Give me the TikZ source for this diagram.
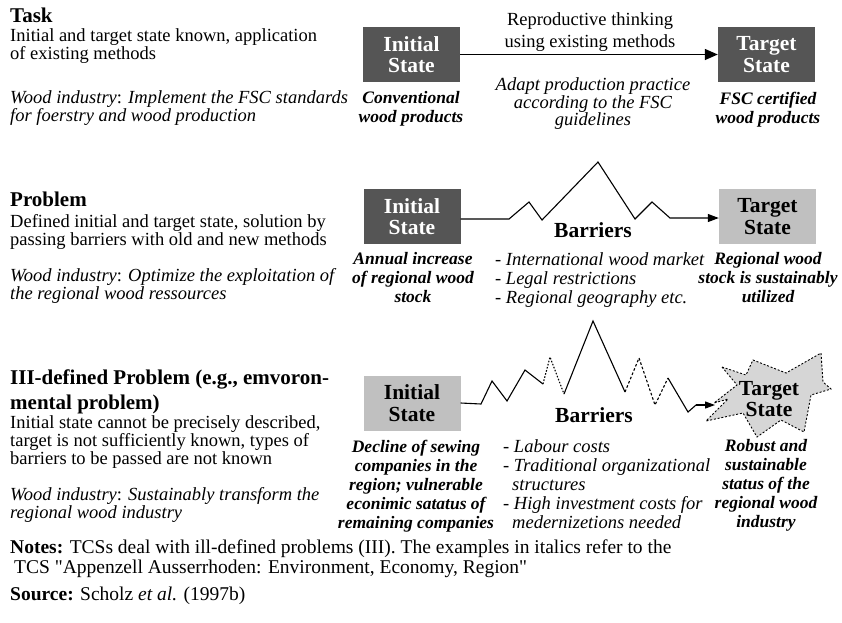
\documentclass[tikz,border=0pt]{standalone}
\usepackage{fontspec}
\setmainfont{Liberation Serif}[Ligatures=TeXOff]
\usetikzlibrary{arrows.meta}
\newcommand\fsBody{\fontsize{18.5}{18}\selectfont}
\newcommand\fsHead{\fontsize{21}{25}\selectfont\bfseries}
\newcommand\fsBox{\fontsize{21.5}{21.5}\selectfont\bfseries}
\newcommand\fsCap{\fontsize{17.5}{19}\selectfont\bfseries\itshape}
\newcommand\fsList{\fontsize{18.5}{19}\selectfont\itshape}
\newcommand\fsPractice{\fontsize{18.5}{17.5}\selectfont\itshape}
\newcommand\fsNote{\fontsize{19.5}{20}\selectfont}
\definecolor{darkbox}{HTML}{555555}
\definecolor{lightbox}{HTML}{C0C0C0}
\definecolor{starfill}{HTML}{D6D6D6}
\begin{document}
\begin{tikzpicture}[x=1pt,y=-1pt,
  txt/.style={inner sep=0pt, align=left, anchor=north west},
  ctxt/.style={inner sep=0pt, align=center, anchor=north},
  darkstate/.style={fill=darkbox, text=white, minimum width=97pt, minimum height=55pt, inner sep=0pt, align=center, font=\fsBox},
  lightstate/.style={darkstate, fill=lightbox, text=black},
  bigarrow/.style={line width=1.4pt, -{Triangle[length=13pt,width=11pt]}},
  zig/.style={line width=1.1pt, line join=miter},
  zigdot/.style={zig, dash pattern=on 1.6pt off 1.6pt},
  zigdash/.style={zig, dash pattern=on 2.6pt off 2pt},
  zigarrow/.style={line width=1.1pt, -{Triangle[length=11pt,width=8pt]}},
  smallarrow/.style={line width=1.1pt, -{Triangle[length=10pt,width=7pt]}},
  burst/.style={fill=starfill, draw=black, line width=0.9pt, dash pattern=on 2pt off 1.8pt}
]
\useasboundingbox (0,0) rectangle (842,622);

% ---------- Task ----------
\node[txt, font=\fsHead] (taskhead) at (10,7.5) {Task};
\node[txt, font=\fsBody] (taskbody) at (10,28.5) {Initial and target state known, application\\of existing methods};
\node[txt, font=\fsBody] (taskex) at (10,90.5) {\textit{Wood industry}: \textit{Implement the FSC standards}\\\textit{for foerstry and wood production}};

\node[darkstate] (init1) at (411.5,54.5) {Initial\\State};
\node[darkstate] (tgt1) at (766.5,54.5) {Target\\State};
\draw[bigarrow] (init1.east) -- (tgt1.west);
\node[ctxt, font=\fsBody] (method1) at (590,12.5) {Reproductive thinking\\[4pt]using existing methods};
\node[ctxt, font=\fsPractice] (practice1) at (593,77.5) {Adapt production practice\\according to the FSC\\guidelines};
\node[ctxt, font=\fsCap] (cap1a) at (411,91.5) {Conventional\\wood products};
\node[ctxt, font=\fsCap] (cap1b) at (768,91.5) {FSC certified\\wood products};

% ---------- Problem ----------
\node[txt, font=\fsHead] (probhead) at (10,192) {Problem};
\node[txt, font=\fsBody] (probbody) at (10,214.5) {Defined initial and target state, solution by\\passing barriers with old and new methods};
\node[txt, font=\fsBody] (probex) at (10,268.5) {\textit{Wood industry}: \textit{Optimize the exploitation of}\\\textit{the regional wood ressources}};

\node[darkstate] (init2) at (412,216.5) {Initial\\State};
\node[lightstate] (tgt2) at (767.5,216.5) {Target\\State};
\draw[zigarrow] ([yshift=-2.5pt]init2.east) -- (509,219) -- (529,202) -- (542,220) -- (598,162)
  -- (635,219) -- (652,202) -- (670,218) -- ([yshift=-1.5pt]tgt2.west);
\node[font=\fsBox, inner sep=0pt] (barr2) at (593,230) {Barriers};
\node[txt, font=\fsList] (list2) at (495,252.5) {- International wood market\\- Legal restrictions\\- Regional geography etc.};
\node[ctxt, font=\fsCap] (cap2a) at (413,252.5) {Annual increase\\of regional wood\\stock};
\node[ctxt, font=\fsCap] (cap2b) at (768,252.5) {Regional wood\\stock is sustainably\\utilized};

% ---------- Ill-defined problem ----------
\node[txt, font=\fsHead] (illhead) at (10,370) {III-defined Problem (e.g., emvoron-\\mental problem)};
\node[txt, font=\fsBody] (illbody) at (10,415.5) {Initial state cannot be precisely described,\\target is not sufficiently known, types of\\barriers to be passed are not known};
\node[txt, font=\fsBody] (illex) at (10,487.5) {\textit{Wood industry}: \textit{Sustainably transform the}\\\textit{regional wood industry}};

\node[lightstate] (init3) at (412,403) {Initial\\State};

% irregular target region
\draw[burst] (722,367) -- (746,375) -- (753,360) -- (786,373) -- (821,353) -- (823,382)
  -- (831,389) -- (811,395) -- (804,432) -- (781,420) -- (757,437) -- (743,413)
  -- (706,421) -- (728,399) -- (714,403) -- (737,385) -- cycle;
\node[font=\fsBox, inner sep=0pt, align=center] (tgt3) at (769,399) {Target\\State};
\coordinate (tip3) at (715,405);

% barrier path with partly unknown stretches
\draw[zig] (init3.east) -- (481,404) -- (492,381) -- (507,401) -- (525,370) -- (543,384);
\draw[zigdot] (543,384) -- (550,357) -- (564,394);
\draw[zig] (564,394) -- (593,321) -- (625,392);
\draw[zigdash] (625,392) -- (639,358) -- (655,405) -- (668,378);
\draw[zig] (668,378) -- (688,412) -- (696,405);
\draw[smallarrow] (696,405) -- (tip3);

\node[font=\fsBox, inner sep=0pt] (barr3) at (594,415) {Barriers};
\node[txt, font=\fsList] (list3) at (503,439.5) {- Labour costs\\- Traditional organizational\\\hspace*{9pt}structures\\- High investment costs for\\\hspace*{9pt}medernizetions needed};
\node[ctxt, font=\fsCap] (cap3a) at (416,439.5) {Decline of sewing\\companies in the\\region; vulnerable\\econimic satatus of\\remaining companies};
\node[ctxt, font=\fsCap] (cap3b) at (766,439.5) {Robust and\\sustainable\\status of the\\regional wood\\industry};

% ---------- notes ----------
\node[txt, font=\fsNote] (notes) at (10,540) {\textbf{Notes:} TCSs deal with ill-defined problems (III). The examples in italics refer to the\\\hspace*{4pt}TCS "Appenzell Ausserrhoden: Environment, Economy, Region"};
\node[txt, font=\fsNote] (source) at (10,587) {\textbf{Source:} Scholz \textit{et al.} (1997b)};
\end{tikzpicture}
\end{document}
